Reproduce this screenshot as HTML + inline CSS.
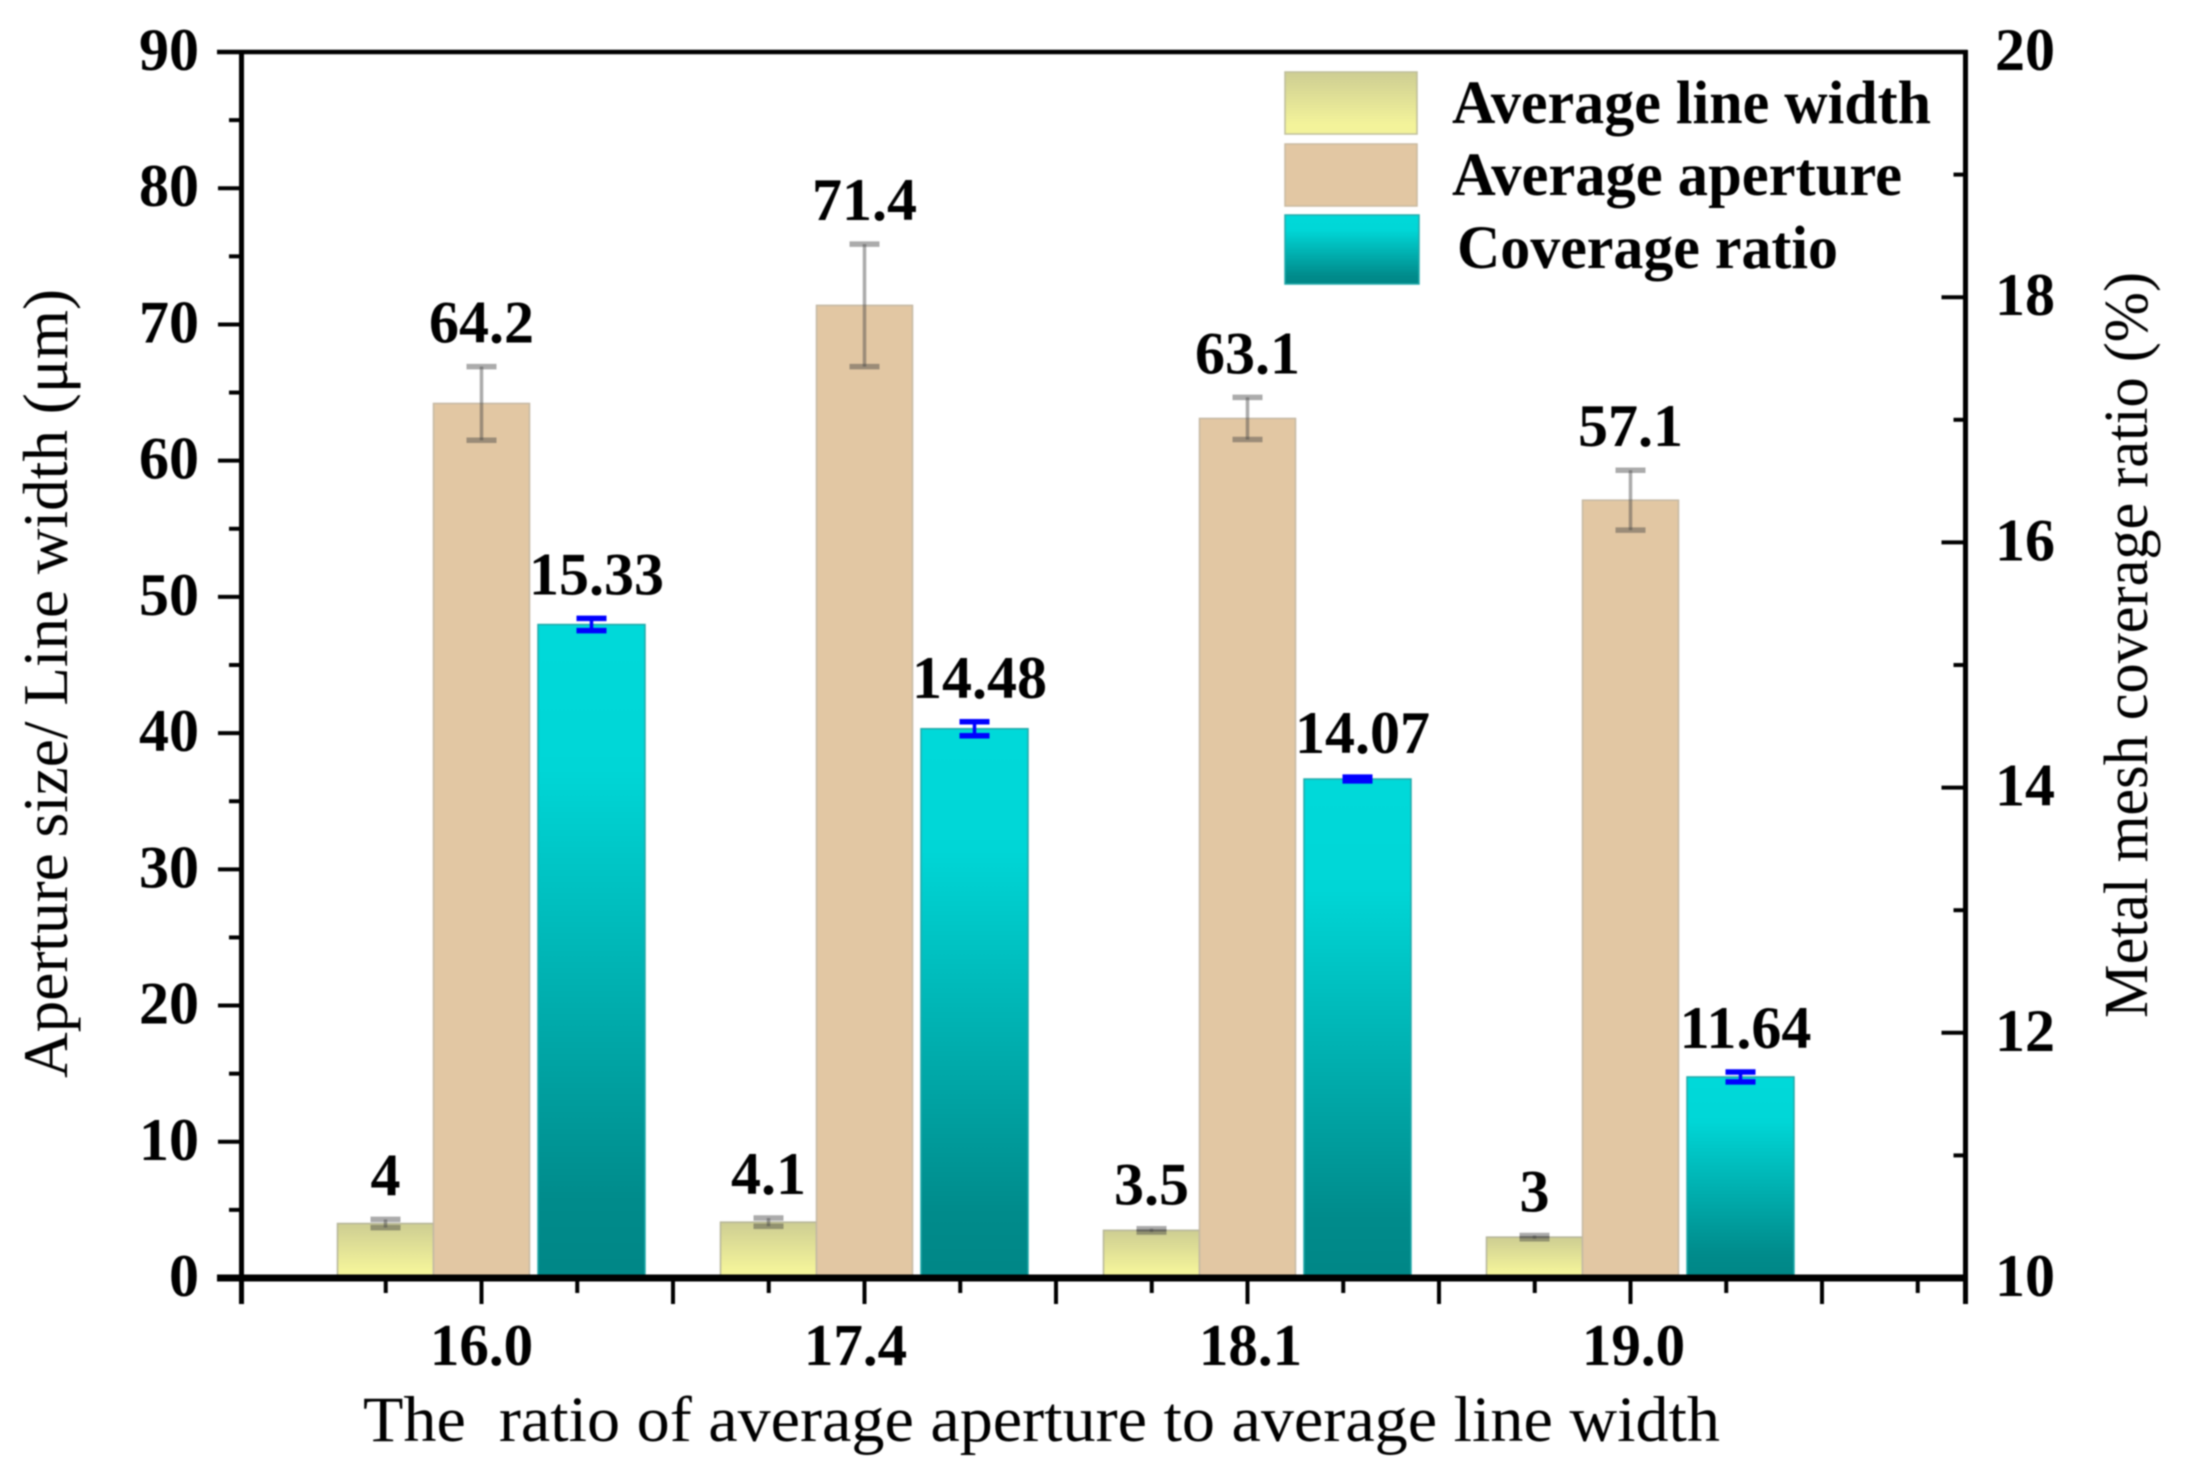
<!DOCTYPE html>
<html lang="en">
<head>
<meta charset="utf-8">
<title>Aperture size, line width and coverage ratio chart</title>
<style>
  html, body { margin: 0; padding: 0; background: #fff; }
  #chart { display: block; width: 2187px; height: 1478px; filter: blur(0.8px); }
  text { font-family: "Liberation Serif", serif; fill: #000; }
</style>
</head>
<body>
<svg id="chart" xmlns="http://www.w3.org/2000/svg" width="2187" height="1478" viewBox="0 0 2187 1478">
  <defs>
    <linearGradient id="grad-yellow" x1="0" y1="0" x2="0" y2="1">
      <stop offset="0" stop-color="#cdcd92"/>
      <stop offset="0.85" stop-color="#f3f39a"/>
      <stop offset="1" stop-color="#f3f39a"/>
    </linearGradient>
    <linearGradient id="grad-teal" x1="0" y1="0" x2="0" y2="1">
      <stop offset="0" stop-color="#00d9d9"/>
      <stop offset="0.22" stop-color="#00d6d6"/>
      <stop offset="0.88" stop-color="#008b8b"/>
      <stop offset="1" stop-color="#008686"/>
    </linearGradient>
  </defs>
  <g id="bars"></g>
  <g id="errors"></g>
  <g id="axes"></g>
  <g id="labels"></g>

  <g>
    <rect x="1285" y="72" width="132" height="62" fill="url(#grad-yellow)" stroke="#bdbd9a" stroke-width="1.5"/>
    <text x="1452" y="123" font-size="61" font-weight="700" textLength="479" lengthAdjust="spacingAndGlyphs">Average line width</text>
    <rect x="1285" y="144" width="132" height="62" fill="#e2c7a3" stroke="#c9b99f" stroke-width="1.5"/>
    <text x="1452" y="195" font-size="61" font-weight="700" textLength="450" lengthAdjust="spacingAndGlyphs">Average aperture</text>
    <rect x="1285" y="215" width="134" height="69" fill="url(#grad-teal)" stroke="#22aaaa" stroke-width="1.5"/>
    <text x="1457" y="268" font-size="61" font-weight="700" textLength="381" lengthAdjust="spacingAndGlyphs">Coverage ratio</text>
  </g>

  <text x="363" y="1441" font-size="65" textLength="1357" lengthAdjust="spacingAndGlyphs" xml:space="preserve" style="white-space:pre">The  ratio of average aperture to average line width</text>
  <text transform="translate(67 1078) rotate(-90)" x="0" y="0" font-size="64" textLength="789" lengthAdjust="spacingAndGlyphs">Aperture size/ Line width (μm)</text>
  <text transform="translate(2147 1018) rotate(-90)" x="0" y="0" font-size="62" textLength="746" lengthAdjust="spacingAndGlyphs">Metal mesh coverage ratio (%)</text>
</svg>

<script>
const categories = ['16.0', '17.4', '18.1', '19.0'];
const lineWidth = [4, 4.1, 3.5, 3];
const lineWidthErr = [0.3, 0.3, 0.12, 0.12];
const aperture = [64.2, 71.4, 63.1, 57.1];
const apertureErr = [2.7, 4.5, 1.55, 2.2];
const coverage = [15.33, 14.48, 14.07, 11.64];
const coverageErr = [0.05, 0.057, 0.015, 0.04];
const leftTickLabels = ['0', '10', '20', '30', '40', '50', '60', '70', '80', '90'];
const rightTickLabels = ['10', '12', '14', '16', '18', '20'];

const svgNS = 'http://www.w3.org/2000/svg';
const PLOT = { left: 241.5, right: 1965.5, top: 52, bottom: 1278 };
const categoryLabelNudge = [0, -9, 3, 3];

function yLeft(v) { return PLOT.bottom - (v / 90) * (PLOT.bottom - PLOT.top); }
function yRight(v) { return PLOT.bottom - ((v - 10) / 10) * (PLOT.bottom - PLOT.top); }
function groupX(i) { return 481.5 + i * 383; }

function make(tag, attrs, parent) {
  const el = document.createElementNS(svgNS, tag);
  for (const k in attrs) el.setAttribute(k, attrs[k]);
  parent.appendChild(el);
  return el;
}

const barsG = document.getElementById('bars');
const errG = document.getElementById('errors');
const axesG = document.getElementById('axes');
const labelsG = document.getElementById('labels');

function drawBar(cx, w, val, yFn, fill, stroke, series, i) {
  const top = yFn(val);
  const bar = make('rect', { x: cx - w / 2, y: top, width: w, height: PLOT.bottom - top, fill: fill, stroke: stroke, 'stroke-width': 1.5 }, barsG);
  
  
}

function drawErr(cx, val, err, yFn, color, opacity, series, i) {
  const g = make('g', { stroke: color, 'stroke-opacity': opacity, fill: 'none' }, errG);
  
  
  const hi = yFn(val + err);
  const lo = yFn(val - err);
  make('line', { x1: cx, x2: cx, y1: hi, y2: lo, 'stroke-width': 3.5 }, g);
  make('line', { x1: cx - 15, x2: cx + 15, y1: hi, y2: hi, 'stroke-width': 5.5 }, g);
  make('line', { x1: cx - 15, x2: cx + 15, y1: lo, y2: lo, 'stroke-width': 5.5 }, g);
}

function drawValueLabel(cx, val, err, yFn, gap, series, i) {
  const t = make('text', { x: cx, y: yFn(val + err) - gap, 'text-anchor': 'middle', 'font-size': 60, 'font-weight': 700 }, labelsG);
  
  
  t.textContent = String(val);
}

categories.forEach(function (cat, i) {
  const c = groupX(i);
  drawBar(c - 96, 96, lineWidth[i], yLeft, 'url(#grad-yellow)', '#b5b59a', 'line-width', i);
  drawBar(c, 96, aperture[i], yLeft, '#e2c7a3', '#c4b8a4', 'aperture', i);
  drawBar(c + 110, 107, coverage[i], yRight, 'url(#grad-teal)', '#20a8a8', 'coverage', i);

  drawErr(c - 96, lineWidth[i], lineWidthErr[i], yLeft, '#444', 0.45, 'line-width', i);
  drawErr(c, aperture[i], apertureErr[i], yLeft, '#444', 0.45, 'aperture', i);
  drawErr(c + 110, coverage[i], coverageErr[i], yRight, '#0000ff', 1, 'coverage', i);

  drawValueLabel(c - 96, lineWidth[i], lineWidthErr[i], yLeft, 24, 'line-width', i);
  drawValueLabel(c, aperture[i], apertureErr[i], yLeft, 24, 'aperture', i);
  drawValueLabel(c + 115, coverage[i], coverageErr[i], yRight, 24, 'coverage', i);

  const xl = make('text', { x: c + categoryLabelNudge[i], y: 1365, 'text-anchor': 'middle', 'font-size': 59, 'font-weight': 700 }, labelsG);
  
  
  xl.textContent = cat;
});

function axisLine(x1, y1, x2, y2, w, name) {
  const l = make('line', { x1: x1, y1: y1, x2: x2, y2: y2, stroke: '#000', 'stroke-width': w }, axesG);
  
  
}

axisLine(PLOT.left, PLOT.top - 2, PLOT.left, 1304, 5, 'y-axis-left');
axisLine(PLOT.right, PLOT.top - 2, PLOT.right, 1304, 5, 'y-axis-right');
axisLine(217, PLOT.top, PLOT.right + 2, PLOT.top, 4.5, 'axis-top');
axisLine(217, PLOT.bottom, PLOT.right + 2, PLOT.bottom, 7, 'x-axis');

leftTickLabels.forEach(function (label, i) {
  const v = Number(label);
  if (i > 0 && i < leftTickLabels.length - 1) axisLine(218, yLeft(v), PLOT.left, yLeft(v), 4, 'y-left-major-tick');
  if (i < leftTickLabels.length - 1) axisLine(229, yLeft(v + 5), PLOT.left, yLeft(v + 5), 4, 'y-left-minor-tick');
  const t = make('text', { x: 199, y: yLeft(v) + 18, 'text-anchor': 'end', 'font-size': 60, 'font-weight': 700 }, labelsG);
  
  
  t.textContent = label;
});

rightTickLabels.forEach(function (label, i) {
  const v = Number(label);
  if (i > 0 && i < rightTickLabels.length - 1) axisLine(PLOT.right - 24, yRight(v), PLOT.right, yRight(v), 4, 'y-right-major-tick');
  if (i < rightTickLabels.length - 1) axisLine(PLOT.right - 12, yRight(v + 1), PLOT.right, yRight(v + 1), 4, 'y-right-minor-tick');
  const t = make('text', { x: 1995, y: yRight(v) + 18, 'font-size': 60, 'font-weight': 700 }, labelsG);
  
  
  t.textContent = label;
});

/* bottom ticks: a major tick every half category step, a minor between */
const xTickStep = 191.5;
for (let k = 0; k < 8; k++) {
  const mx = groupX(0) + k * xTickStep;
  axisLine(mx, 1281, mx, 1304, 4, 'x-major-tick');
  axisLine(mx - xTickStep / 2, 1281, mx - xTickStep / 2, 1293, 4, 'x-minor-tick');
}
axisLine(groupX(0) + 7.5 * xTickStep, 1281, groupX(0) + 7.5 * xTickStep, 1293, 4, 'x-minor-tick');
</script>
</body>
</html>
